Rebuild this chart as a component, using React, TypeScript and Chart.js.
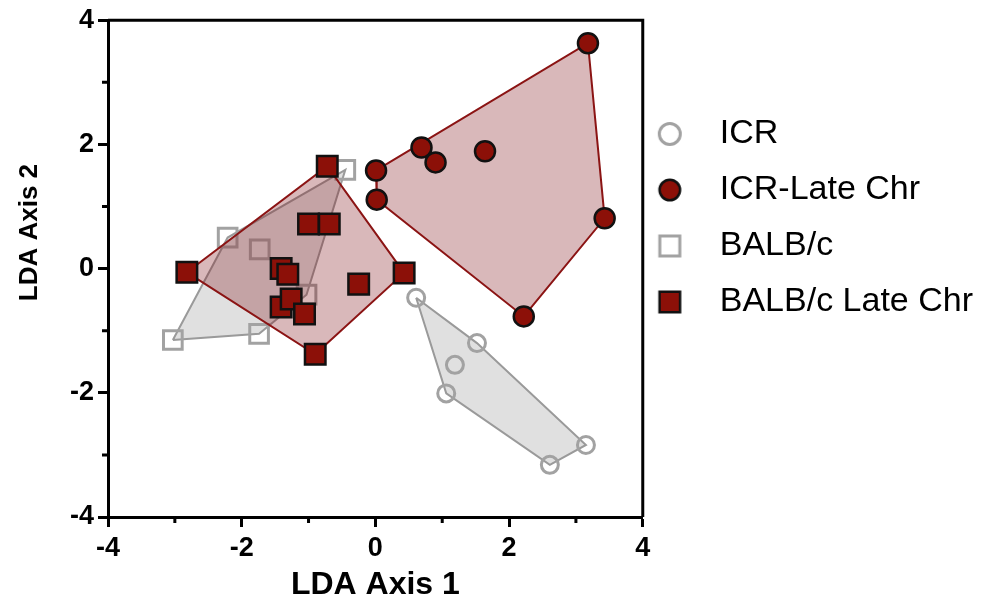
import React, { useEffect, useRef } from 'react';
import { Chart, registerables } from 'chart.js';
Chart.register(...registerables);

const seriesNames = ['ICR', 'ICR-Late Chr', 'BALB/c', 'BALB/c Late Chr'];

const icrX = [0.61, 1.52, 1.19, 1.06, 3.15, 2.61];
const icrY = [-0.47, -1.2, -1.55, -2.01, -2.84, -3.16];

const icrLateX = [3.18, 0.01, 0.02, 0.69, 0.9, 1.64, 3.43, 2.22];
const icrLateY = [3.63, 1.58, 1.11, 1.95, 1.71, 1.89, 0.81, -0.77];

const balbX = [-0.45, -2.21, -1.73, -1.03, -3.03, -1.74];
const balbY = [1.59, 0.5, 0.31, -0.42, -1.15, -1.05];

const balbLateX = [-0.72, -2.82, 0.43, -0.9, -1.0, -0.69, -1.41, -1.31, -0.25, -1.41, -1.26, -1.06];
const balbLateY = [1.65, -0.06, -0.07, -1.38, 0.72, 0.72, 0.0, -0.09, -0.25, -0.62, -0.49, -0.73];

const axisMin = -4;
const axisMax = 4;
const majorTicks = [-4, -2, 0, 2, 4];
const minorTicks = [-3, -1, 1, 3];
const xTitle = 'LDA Axis 1';
const yTitle = 'LDA Axis 2';

type P = { x: number; y: number };
const toPoints = (xs: number[], ys: number[]): P[] => xs.map((x, i) => ({ x, y: ys[i] }));

function convexHull(pts: P[]): P[] {
  const s = [...pts].sort((a, b) => a.x - b.x || a.y - b.y);
  const cross = (o: P, a: P, b: P) => (a.x - o.x) * (b.y - o.y) - (a.y - o.y) * (b.x - o.x);
  const lower: P[] = [];
  for (const p of s) {
    while (lower.length >= 2 && cross(lower[lower.length - 2], lower[lower.length - 1], p) <= 0) lower.pop();
    lower.push(p);
  }
  const upper: P[] = [];
  for (let i = s.length - 1; i >= 0; i--) {
    const p = s[i];
    while (upper.length >= 2 && cross(upper[upper.length - 2], upper[upper.length - 1], p) <= 0) upper.pop();
    upper.push(p);
  }
  upper.pop();
  lower.pop();
  const h = lower.concat(upper);
  return [...h, h[0]];
}

const RED = '#8c1008';
const GRAY = '#a2a2a2';
const FONT = "'Liberation Sans', Arial, Helvetica, sans-serif";

function legendMarker(shape: 'circle' | 'rect', fill: string | null, stroke: string, bw: number, outer: number) {
  const c = document.createElement('canvas');
  c.width = 60;
  c.height = 40;
  const g = c.getContext('2d')!;
  const cx = 16, cy = 20, s = outer - bw;
  g.lineWidth = bw;
  g.strokeStyle = stroke;
  g.beginPath();
  if (shape === 'circle') g.arc(cx, cy, s / 2, 0, Math.PI * 2);
  else g.rect(cx - s / 2, cy - s / 2, s, s);
  if (fill) {
    g.fillStyle = fill;
    g.fill();
  }
  g.stroke();
  return c;
}

const extrasPlugin = {
  id: 'extras',
  afterDraw(chart: any) {
    const { ctx, chartArea: a, scales } = chart;
    ctx.save();
    ctx.strokeStyle = '#000';
    ctx.lineWidth = 3;
    ctx.beginPath();
    ctx.moveTo(a.left, a.top);
    ctx.lineTo(a.right, a.top);
    ctx.lineTo(a.right, a.bottom);
    ctx.stroke();
    ctx.beginPath();
    for (const v of minorTicks) {
      const px = scales.x.getPixelForValue(v);
      ctx.moveTo(px, a.bottom);
      ctx.lineTo(px, a.bottom + 6);
      const py = scales.y.getPixelForValue(v);
      ctx.moveTo(a.left, py);
      ctx.lineTo(a.left - 6, py);
    }
    ctx.stroke();
    ctx.translate(30, (a.top + a.bottom) / 2 - 36);
    ctx.rotate(-Math.PI / 2);
    ctx.font = `bold 26px ${FONT}`;
    ctx.fillStyle = '#000';
    ctx.textAlign = 'center';
    ctx.textBaseline = 'middle';
    ctx.fillText(yTitle, 0, 0);
    ctx.restore();
  },
};

export default function App() {
  const ref = useRef<HTMLCanvasElement>(null);
  useEffect(() => {
    document.body.style.margin = '0';
    const icr = toPoints(icrX, icrY);
    const icrLate = toPoints(icrLateX, icrLateY);
    const balb = toPoints(balbX, balbY);
    const balbLate = toPoints(balbLateX, balbLateY);
    const hullGray = { showLine: true, pointRadius: 0, tension: 0, borderColor: '#9a9a9a', borderWidth: 2, backgroundColor: 'rgba(130,130,130,0.25)', fill: 'shape' };
    const hullRed = { showLine: true, pointRadius: 0, tension: 0, borderColor: '#8b1414', borderWidth: 2, backgroundColor: 'rgba(130,20,25,0.3)', fill: 'shape' };
    const markers = [
      legendMarker('circle', null, GRAY, 3, 24),
      legendMarker('circle', RED, '#111', 2.5, 23),
      legendMarker('rect', null, GRAY, 3, 23),
      legendMarker('rect', RED, '#111', 2.5, 23),
    ];
    const tickFont = { family: FONT, size: 27, weight: 'bold' as const };
    const chart = new Chart(ref.current!, {
      type: 'scatter',
      data: {
        datasets: [
          { ...hullGray, data: convexHull(icr), order: 10 } as any,
          { ...hullGray, data: convexHull(balb), order: 9 } as any,
          { ...hullRed, data: convexHull(balbLate), order: 6 } as any,
          { ...hullRed, data: convexHull(icrLate), order: 5 } as any,
          { label: seriesNames[0], data: icr, pointStyle: 'circle', pointRadius: 8.5, borderWidth: 3, borderColor: GRAY, backgroundColor: 'rgba(0,0,0,0)', order: 8 },
          { label: seriesNames[1], data: icrLate, pointStyle: 'circle', pointRadius: 10, borderWidth: 2.5, borderColor: '#111', backgroundColor: RED, order: 1 },
          { label: seriesNames[2], data: balb, pointStyle: 'rect', pointRadius: 13.2, borderWidth: 3, borderColor: GRAY, backgroundColor: 'rgba(0,0,0,0)', order: 8 },
          { label: seriesNames[3], data: balbLate, pointStyle: 'rect', pointRadius: 14.5, borderWidth: 2.5, borderColor: '#111', backgroundColor: RED, order: 2 },
        ],
      },
      options: {
        animation: false,
        responsive: false,
        maintainAspectRatio: false,
        layout: { padding: { left: 8, right: 5, top: 4, bottom: 0 } },
        plugins: {
          tooltip: { enabled: false },
          legend: {
            position: 'right',
            align: 'start',
            maxWidth: 400,
            title: { display: true, text: '', font: { size: 10 }, padding: { top: 79, bottom: 0 } },
            labels: {
              usePointStyle: true,
              pointStyleWidth: 38,
              padding: 22,
              color: '#000',
              font: { family: FONT, size: 34 },
              filter: (item: any) => !!item.text,
              sort: (a: any, b: any) => a.datasetIndex - b.datasetIndex,
              generateLabels: (ch: any) => {
                const items = Chart.defaults.plugins.legend.labels.generateLabels(ch);
                return items.map((it: any) => {
                  const idx = seriesNames.indexOf(it.text);
                  return idx >= 0 ? { ...it, pointStyle: markers[idx] } : it;
                });
              },
            },
          },
        },
        scales: {
          x: {
            type: 'linear',
            min: axisMin,
            max: axisMax,
            afterFit: (s: any) => { s.height = 94; },
            border: { display: true, color: '#000', width: 3 },
            grid: {
              display: true,
              drawOnChartArea: false,
              drawTicks: true,
              tickLength: 10,
              tickWidth: 3,
              tickColor: (c: any) => (majorTicks.includes(c.tick?.value) ? '#000' : 'rgba(0,0,0,0)'),
            },
            ticks: {
              stepSize: 1,
              autoSkip: false,
              maxRotation: 0,
              padding: 5,
              color: '#000',
              font: tickFont,
              callback: (v: any) => (majorTicks.includes(Number(v)) ? String(v) : ''),
            },
            title: { display: true, text: xTitle, color: '#000', font: { family: FONT, size: 32, weight: 'bold' }, padding: { top: 0, bottom: 7 } },
          },
          y: {
            type: 'linear',
            min: axisMin,
            max: axisMax,
            afterFit: (s: any) => { s.width = 100; },
            border: { display: true, color: '#000', width: 3 },
            grid: {
              display: true,
              drawOnChartArea: false,
              drawTicks: true,
              tickLength: 10,
              tickWidth: 3,
              tickColor: (c: any) => (majorTicks.includes(c.tick?.value) ? '#000' : 'rgba(0,0,0,0)'),
            },
            ticks: {
              stepSize: 1,
              autoSkip: false,
              padding: 4,
              color: '#000',
              font: tickFont,
              callback: (v: any) => (majorTicks.includes(Number(v)) ? String(v) : ''),
            },
          },
        },
      },
      plugins: [extrasPlugin],
    } as any);
    return () => chart.destroy();
  }, []);
  return (
    <div style={{ position: 'relative', width: 988, height: 611 }}>
      <canvas ref={ref} width={988} height={611} style={{ display: 'block' }} />
    </div>
  );
}
